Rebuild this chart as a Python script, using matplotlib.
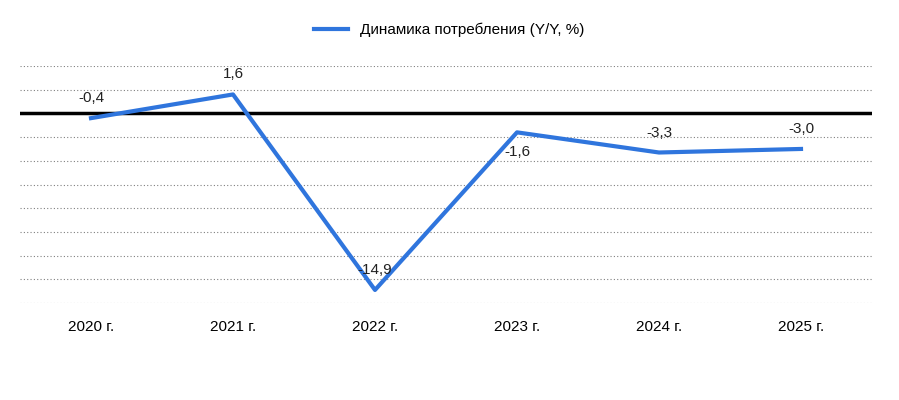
import matplotlib
matplotlib.use("Agg")
import matplotlib.pyplot as plt

years = ["2020 г.", "2021 г.", "2022 г.", "2023 г.", "2024 г.", "2025 г."]
values = [-0.4, 1.6, -14.9, -1.6, -3.3, -3.0]
labels = ["-0,4", "1,6", "-14,9", "-1,6", "-3,3", "-3,0"]
offsets = [20, 20, 20, -20, 20, 20]

plt.rcParams['font.family'] = ['Liberation Sans', 'DejaVu Sans']
fig = plt.figure(figsize=(8.99, 4.0), dpi=100)
ax = fig.add_axes([20/899, 97/400, 852/899, 237/400])
x = list(range(len(years)))
ax.set_xlim(-0.5, 5.5)
ax.set_ylim(-16, 4)
for yv in range(-16, 5, 2):
    if yv != 0:
        ax.axhline(yv, color='#808080', lw=0.8, ls=(0, (1, 2)), zorder=1)
ax.axhline(0, color='black', lw=2.5, zorder=2)
ln, = ax.plot(x, values, color='#2f75dd', lw=3, zorder=3, label='Динамика потребления (Y/Y, %)')
for xi, v, l, o in zip(x, values, labels, offsets):
    ax.annotate(l, (xi, v), xytext=(0, o), textcoords='offset points' if False else 'offset pixels',
                ha='center', va='center', fontsize=11, color='#222222')
ax.set_xticks(x)
ax.set_xticklabels(years, fontsize=11)
ax.set_yticks([])
ax.tick_params(axis='x', length=0, pad=12)
for s in ax.spines.values():
    s.set_visible(False)
fig.legend(handles=[ln], loc='center', bbox_to_anchor=(0.5, 1 - 30/400), frameon=False,
           fontsize=11, handlelength=2.2)
fig.savefig("out.png", dpi=100)
